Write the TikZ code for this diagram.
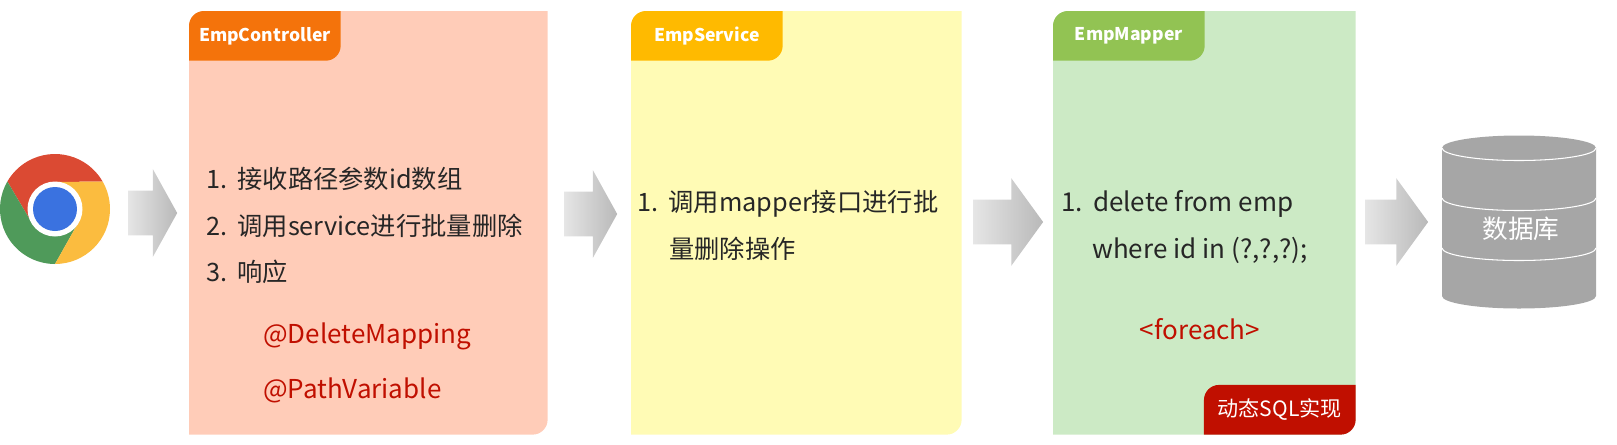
\documentclass[tikz,border=0pt]{standalone}
\usepackage{fontspec}
\setmainfont{Noto Sans CJK SC}
\usetikzlibrary{positioning,shapes.arrows,backgrounds}
\definecolor{ctrlpanel}{HTML}{FFCCB8}
\definecolor{ctrltab}{HTML}{F4730B}
\definecolor{servpanel}{HTML}{FFFBB5}
\definecolor{servtab}{HTML}{FFBA00}
\definecolor{mappanel}{HTML}{CCEAC5}
\definecolor{maptab}{HTML}{92C353}
\definecolor{redtext}{HTML}{C00F00}
\definecolor{ink}{HTML}{262626}
\definecolor{dbgray}{HTML}{A6A6A6}
\definecolor{chromeblue}{HTML}{3A72E0}
\newcommand{\leaf}[2]{%
  \begin{scope}[on background layer]
    \fill[#2] (#1.north east) [rounded corners=0.3cm] -- (#1.south east) [sharp corners] -- (#1.south west)
      [rounded corners=0.3cm] -- (#1.north west) [sharp corners] -- cycle;
  \end{scope}}
\tikzset{
  x=0.02cm, y=-0.02cm,
  panel/.style={inner sep=0pt, minimum height=8.46cm, anchor=north west},
  tabbox/.style={inner sep=0pt, minimum width=3.02cm, minimum height=0.98cm,
                 text=white, font=\fontsize{10}{12}\selectfont\bfseries},
  item/.style={anchor=base west, inner sep=0pt, text=ink, font=\fontsize{14.4}{17}\selectfont},
  latin/.style={item, font=\fontsize{14.8}{18}\selectfont},
  note/.style={latin, text=redtext},
  blockarrow/.style={single arrow, inner sep=0pt, text height=0.88cm, text depth=0pt,
                     single arrow head extend=0.43cm, left color=gray!20,
                     right color=gray!55, draw=none}
}
\begin{document}
\begin{tikzpicture}
\useasboundingbox (0,0) rectangle (1617,444);

% browser icon
\coordinate (chrome) at (55,209);
\begin{scope}[shift={(chrome)}, y=0.02cm]
  \foreach \col/\ang in {DB4A33/30, 4F9A5A/150, FBBC3F/270}{
    \definecolor{slice}{HTML}{\col}
    \fill[slice] (\ang:55) arc[start angle=\ang, delta angle=120, radius=55]
      -- (\ang+180:27) -- (\ang+60:27) -- cycle;
  }
  \fill[white] (0,0) circle (27.5);
  \fill[chromeblue] (0,0) circle (22);
\end{scope}

% panels
\node[panel, minimum width=7.16cm] (ctrl) at (189,11) {};
\node[panel, minimum width=6.6cm] (serv) at (631,11) {};
\node[panel, minimum width=6.04cm] (map) at (1053,11) {};
\leaf{ctrl}{ctrlpanel}
\leaf{serv}{servpanel}
\leaf{map}{mappanel}

\node[tabbox, below right=0pt and 0pt of ctrl.north west] (ctrltag) {EmpController};
\node[tabbox, below right=0pt and 0pt of serv.north west] (servtag) {EmpService};
\node[tabbox, below right=0pt and 0pt of map.north west] (maptag) {EmpMapper};
\leaf{ctrltag}{ctrltab}
\leaf{servtag}{servtab}
\leaf{maptag}{maptab}

\node[tabbox, above left=0pt and 0pt of map.south east, font=\fontsize{12}{14}\selectfont] (dyntag) {动态SQL实现};
\leaf{dyntag}{redtext}

% controller text
\node[item] (c1) at (206,188) {1.\hspace{0.2cm}接收路径参数id数组};
\node[item] (c2) at (206,235) {2.\hspace{0.2cm}调用service进行批量删除};
\node[item] (c3) at (206,281) {3.\hspace{0.2cm}响应};
\node[note] (c4) at (263,343) {@DeleteMapping};
\node[note] (c5) at (263,398) {@PathVariable};

% service text
\node[item] (s1) at (637,211) {1.\hspace{0.2cm}调用mapper接口进行批};
\node[item] (s2) at (669,258) {量删除操作};

% mapper text
\node[latin] (m1) at (1061,211) {1.\hspace{0.2cm}delete from emp};
\node[latin] (m2) at (1092,258) {where id in (?,?,?);};
\node[note, anchor=base] (m3) at (1200,339) {<foreach>};

% arrows
\node[blockarrow, minimum height=0.98cm, single arrow tip angle=122] (a1) at (146.5,213) {};
\node[blockarrow, minimum height=1.06cm, single arrow tip angle=122] (a2) at (584.5,214) {};
\node[blockarrow, minimum height=1.4cm, single arrow tip angle=108] (a3) at (1000,222) {};
\node[blockarrow, minimum height=1.26cm, single arrow tip angle=108] (a4) at (1388.5,222) {};

% database
\fill[dbgray] (1442,148) arc[start angle=180, end angle=360, x radius=77, y radius=12.5]
  -- (1596,296) arc[start angle=0, end angle=180, x radius=77, y radius=12.5] -- cycle;
\foreach \yy in {148,198,248}{
  \draw[white, line width=0.6pt] (1442,\yy) arc[start angle=180, end angle=0, x radius=77, y radius=12.5];
}
\node[text=white, inner sep=0pt, font=\fontsize{14.6}{17}\selectfont] (db) at (1521,229) {数据库};
\end{tikzpicture}
\end{document}
